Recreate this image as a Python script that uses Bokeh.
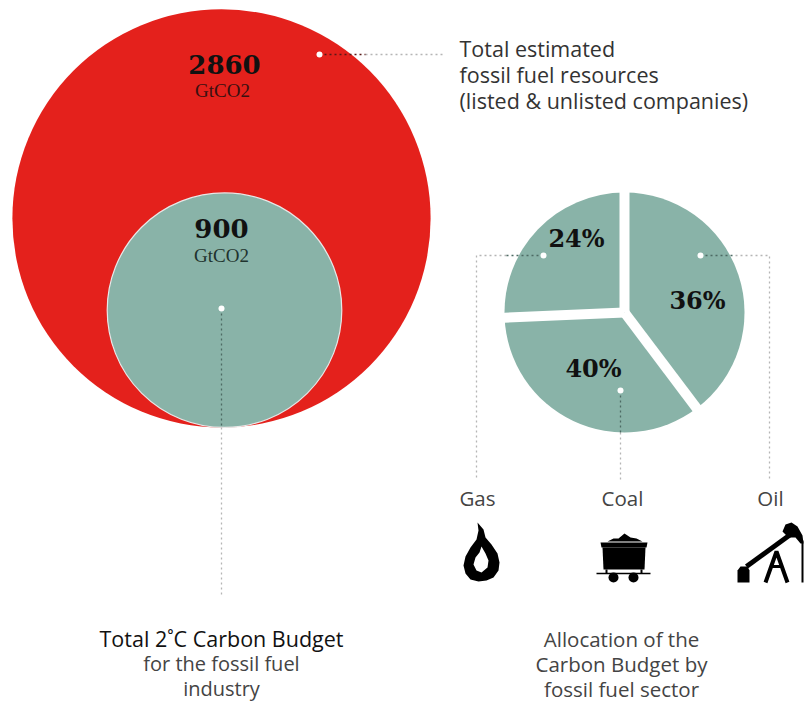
import math
from bokeh.plotting import figure
from bokeh.models import Range1d
from bokeh.core.properties import value
from bokeh.embed import file_html
from bokeh.resources import INLINE

# ---- data ----
budget_values = [2860, 900]
budget_unit = "GtCO2"
sector_names = ["Oil", "Coal", "Gas"]
sector_labels = ["36%", "40%", "24%"]
# slice sweeps as drawn in the reference (degrees, clockwise from 12 o'clock)
sector_sweeps = [143, 124.5, 92.5]

RED, TEAL = "#E4211C", "#89B3A8"
INK, GREY = "#333333", "#b5b5b5"
SANS = "Open Sans"
SERIF = "DejaVu Serif"

p = figure(width=804, height=702, output_backend="svg", toolbar_location=None,
           x_range=Range1d(0, 804), y_range=Range1d(-702, 0),
           min_border=0, outline_line_color=None, background_fill_color="white")
p.xaxis.visible = False
p.yaxis.visible = False
p.grid.visible = False

k = 3.91  # px per sqrt(GtCO2): circle areas follow the values
R = [k * math.sqrt(v) for v in budget_values]
bx, base = 221, 427
p.circle(x=[bx], y=[-(base - R[0])], radius=R[0], fill_color=RED, line_color=None)
p.circle(x=[bx + 3], y=[-(base - R[1])], radius=R[1], fill_color=TEAL, line_color="#e8e8e8", line_width=1.2)

# pie
cx, cy, pr = 624, 312, 120
a = 0
bounds = []
for s in sector_sweeps:
    p.wedge(x=[cx], y=[-cy], radius=pr,
            start_angle=math.radians(90 - a - s), end_angle=math.radians(90 - a),
            fill_color=TEAL, line_color=None)
    bounds.append(a)
    a += s
for b in bounds:
    t = math.radians(b)
    p.line([cx, cx + (pr + 6) * math.sin(t)], [-cy, -cy + (pr + 6) * math.cos(t)],
           line_color="white", line_width=10)


def dots(xs, ys, color=GREY, w=1.3, dash="2 3"):
    p.line(xs, [-y for y in ys], line_color=color, line_width=w, line_dash=dash)


# leaders, light outside and dark inside the shapes
dots([365, 445], [54, 54])
dots([319, 365], [54, 54], "#5a1a18")
dots([221, 221], [427, 597])
dots([221, 221], [308, 427], "#4d6a63")
dots([506, 476, 476], [255, 255, 480])
dots([543, 506], [255, 255], "#4d6a63")
dots([735, 769, 769], [255, 255, 480])
dots([700, 735], [255, 255], "#4d6a63")
dots([620, 620], [432, 480])
dots([620, 620], [390, 432], "#4d6a63")
p.scatter(x=[319, 221, 543, 700, 620], y=[-54, -308, -255, -255, -390], size=6,
          marker="circle", fill_color="white", line_color=None)


def txt(x, y, s, size, font=SANS, align="left", style="normal", color=INK):
    p.text(x=[x], y=[-y], text=[s], text_font=value(font), text_font_size=size,
           text_align=align, text_baseline="middle", text_font_style=style, text_color=color)


# numbers
txt(224, 64, str(budget_values[0]), "26px", SERIF, "center", "bold", "#111")
txt(222, 90, budget_unit, "19px", "Liberation Serif", "center", color="#3a1010")
txt(221, 228, str(budget_values[1]), "26px", SERIF, "center", "bold", "#111")
txt(221, 255, budget_unit, "19px", "Liberation Serif", "center", color="#1f332e")
txt(576, 238, sector_labels[2], "24px", SERIF, "center", "bold", "#111")
txt(697, 300, sector_labels[0], "24px", SERIF, "center", "bold", "#111")
txt(593, 368, sector_labels[1], "24px", SERIF, "center", "bold", "#111")

# captions
for i, s in enumerate(["Total estimated", "fossil fuel resources", "(listed & unlisted companies)"]):
    txt(459, 48 + 26 * i, s, "21.5px")
for i, s in enumerate(["Total 2˚C Carbon Budget", "for the fossil fuel", "industry"]):
    txt(221, 638 + 25 * i, s, "21.5px" if i == 0 else "20px", align="center", color="#111" if i == 0 else "#444")
for i, s in enumerate(["Allocation of the", "Carbon Budget by", "fossil fuel sector"]):
    txt(621, 638 + 25 * i, s, "20.5px", align="center", color="#444")
for x, s in zip([477, 622, 770], [sector_names[2], sector_names[1], sector_names[0]]):
    txt(x, 497, s, "20.5px", align="center", color="#444")

# ---- icons (decoration) ----
K = "black"


def poly(pts, color=K):
    p.patch([q[0] for q in pts], [-q[1] for q in pts], fill_color=color, line_color=None)


def stroke(pts, w):
    p.line([q[0] for q in pts], [-q[1] for q in pts], line_color=K, line_width=w)


# flame
poly([(477, 522), (483, 529), (485, 537), (491, 544), (497, 553), (499, 562), (498, 570), (493, 577),
      (486, 580), (478, 581), (470, 579), (465, 573), (463, 565), (465, 556), (470, 547),
      (476, 539), (478, 530)])
poly([(481, 546), (485, 553), (488, 560), (487, 567), (481, 572), (476, 570), (473, 564), (475, 557), (479, 552)], "white")

# coal wagon
poly([(607, 541), (613, 538), (618, 538), (624, 533), (630, 537), (636, 538), (642, 541)])
poly([(600, 542), (647, 542), (646, 547), (601, 547)])
poly([(602, 547), (645, 547), (644, 569), (603, 569)])
stroke([(596, 573), (650, 573)], 1.5)
stroke([(606, 569), (606, 573)], 2)
stroke([(641, 569), (641, 573)], 2)
p.circle(x=[613, 633], y=[-577, -577], radius=5, fill_color=K, line_color=None)

# pump jack
poly([(737, 582), (737, 570), (740, 566), (747, 566), (749, 570), (749, 582)])
stroke([(746, 566), (790, 534)], 5)
poly([(782, 531), (785, 524), (791, 522), (797, 526), (802, 535), (803, 543), (800, 543), (795, 537), (788, 537)])
stroke([(802, 540), (802, 582)], 2)
stroke([(765, 582), (776, 551), (787, 582)], 4)
stroke([(770, 566), (782, 566)], 3)

open("out.html", "w").write(file_html(p, INLINE))
